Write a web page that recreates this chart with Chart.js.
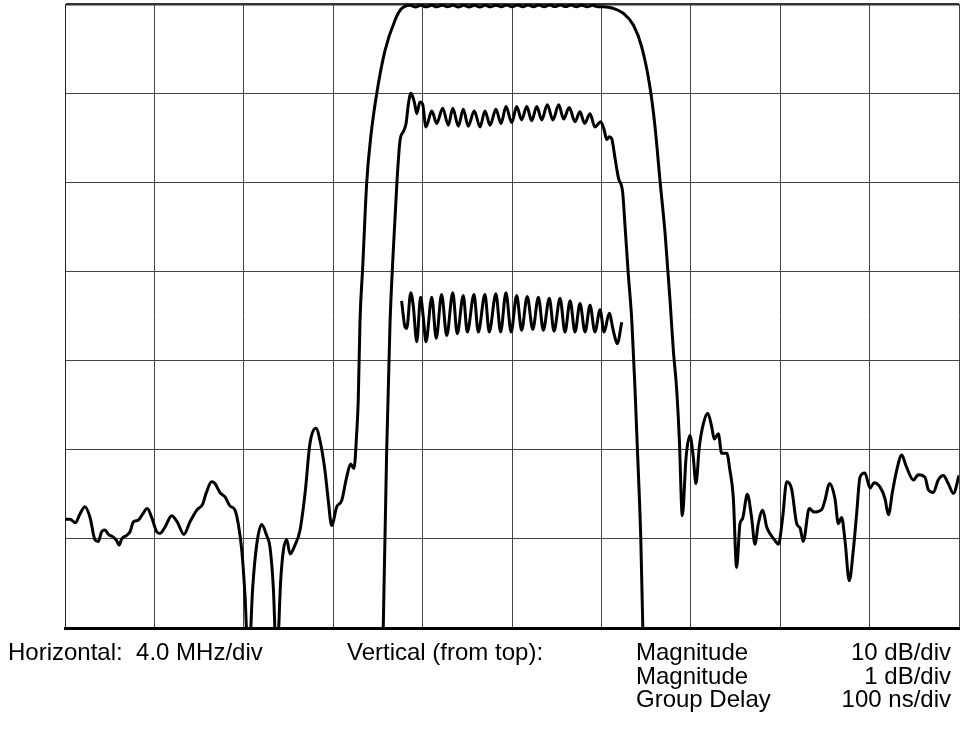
<!DOCTYPE html>
<html lang="en">
<head>
    <meta charset="UTF-8">
    <title>Filter response</title>
    <script src="https://cdn.jsdelivr.net/npm/chart.js"></script>
    <style>
        html, body { margin: 0; padding: 0; background: #fff; }
        .wrap { position: relative; width: 960px; height: 732px; overflow: hidden; }
        canvas { position: absolute; left: 0; top: 0; }
        .lbl {
            position: absolute;
            font-family: 'Liberation Sans', Arial, sans-serif;
            font-size: 24px;
            line-height: 23.5px;
            color: #000;
            white-space: pre;
        }
        .r { text-align: right; }
    </style>
</head>
<body>
<div class="wrap">
    <canvas id="chart" width="960" height="732"></canvas>
    <div class="lbl" style="left:8px; top:640px;">Horizontal:  4.0 MHz/div</div>
    <div class="lbl" style="left:347px; top:640px;">Vertical (from top):</div>
    <div class="lbl" style="left:636px; top:640px;">Magnitude<br>Magnitude<br>Group Delay</div>
    <div class="lbl r" style="right:9px; top:640px;">10 dB/div<br>1 dB/div<br>100 ns/div</div>
</div>
<script>
// frequency offset in MHz (4 MHz/div), magnitude in dB (10 dB/div)
const wideFreq = [
    -20.00, -19.78, -19.53, -19.33, -19.11, -18.88, -18.66, -18.51, -18.36, -18.21,
    -18.06, -17.84, -17.69, -17.58, -17.46, -17.24, -17.09, -16.94, -16.72, -16.57,
    -16.32, -16.12, -15.90, -15.75, -15.53, -15.23, -14.98, -14.68, -14.41, -14.11,
    -13.84, -13.69, -13.44, -13.29, -13.07, -12.84, -12.62, -12.39, -12.25, -12.09,
    -11.95, -11.79, -11.60, -11.42, -11.20, -10.98, -10.83, -10.68, -10.53, -10.35,
    -10.23, -10.08, -9.93, -9.71, -9.49, -9.26, -9.04, -8.77, -8.59, -8.37,
    -8.22, -8.07, -7.84, -7.62, -7.40, -7.22, -7.07, -6.95, -6.88, -6.80,
    -6.68, -6.50, -6.31, -6.05, -5.68, -5.23, -4.97, -4.56,
    -4.32, -4.08, -3.84, -3.60, -3.36, -3.12, -2.88, -2.64, -2.40, -2.16,
    -1.92, -1.68, -1.44, -1.20, -0.96, -0.72, -0.48, -0.24, 0.00, 0.24,
    0.48, 0.72, 0.96, 1.20, 1.44, 1.68, 1.92, 2.16, 2.40, 2.64,
    2.88, 3.12, 3.36, 3.60, 3.84,
    4.09, 4.53, 4.98, 5.43, 5.80, 6.17, 6.40, 6.62, 6.85, 7.07,
    7.22, 7.37, 7.49, 7.62, 7.79, 7.96, 8.11, 8.23, 8.38, 8.56,
    8.76, 8.94, 9.05, 9.23, 9.38, 9.61, 9.75, 9.90, 10.05, 10.20,
    10.32, 10.53, 10.72, 10.87, 11.02, 11.22, 11.40, 11.54, 11.77, 11.92,
    12.11, 12.29, 12.51, 12.74, 12.89, 13.03, 13.30, 13.51, 13.86, 14.00,
    14.20, 14.45, 14.60, 14.75, 14.90, 15.09, 15.27, 15.42, 15.57, 15.79,
    16.02, 16.20, 16.47, 16.69, 16.84, 17.03, 17.24, 17.44, 17.63, 17.96,
    18.18, 18.48, 18.63, 18.85, 19.07, 19.30, 19.52, 19.75, 20.00
];
const wideMag = [
    -57.8, -57.8, -58.2, -57.2, -56.4, -57.6, -60.1, -60.3, -59.2, -59.0,
    -59.5, -59.8, -60.2, -60.7, -60.0, -59.6, -59.2, -58.1, -57.9, -57.4,
    -56.6, -57.6, -59.2, -59.4, -58.7, -57.4, -58.1, -59.5, -58.1, -56.8,
    -56.1, -54.9, -53.6, -53.8, -54.8, -55.3, -56.3, -56.8, -58.3, -61.3,
    -66.2, -74.0, -65.4, -60.6, -58.4, -59.6, -60.9, -65.4, -74.0, -64.7,
    -61.3, -60.1, -61.7, -60.7, -59.1, -54.9, -49.3, -47.6, -49.0, -52.3,
    -55.7, -58.5, -56.4, -55.7, -53.1, -51.6, -52.1, -48.2, -44.5, -35.5,
    -29.5, -20.0, -14.7, -10.0, -5.2, -1.8, -0.6, -0.15,
    -0.33, -0.14, -0.32, -0.14, -0.32, -0.13, -0.32, -0.13, -0.33, -0.14,
    -0.33, -0.14, -0.33, -0.14, -0.32, -0.13, -0.31, -0.12, -0.30, -0.12,
    -0.30, -0.12, -0.30, -0.12, -0.30, -0.11, -0.29, -0.11, -0.29, -0.12,
    -0.30, -0.13, -0.31, -0.15, -0.30,
    -0.30, -0.48, -1.04, -2.36, -4.79, -9.28, -13.78, -19.76, -25.74, -33.23,
    -38.9, -43.3, -49.0, -57.4, -50.8, -48.4, -50.8, -53.8, -49.7, -47.1,
    -45.9, -47.5, -48.8, -48.2, -50.4, -50.4, -52.3, -55.3, -63.2, -58.3,
    -57.7, -55.0, -57.6, -60.6, -58.3, -56.8, -58.7, -59.4, -60.2, -60.6,
    -57.6, -53.6, -54.4, -58.3, -58.8, -60.3, -56.6, -57.0, -56.7, -55.7,
    -53.8, -55.5, -58.3, -57.6, -60.2, -64.7, -61.3, -57.2, -53.1, -52.6,
    -54.3, -53.7, -54.2, -55.5, -57.3, -54.6, -52.0, -50.6, -51.8, -53.4,
    -52.8, -53.1, -54.5, -54.8, -53.4, -52.9, -53.8, -54.9, -52.9
];

// passband detail, 1 dB/div
const fineFreq = [
    -5.79, -5.61, -5.46, -5.31, -5.16, -5.01, -4.86, -4.74, -4.64, -4.52,
    -4.37, -4.26, -4.12, -4.00, -3.85, -3.59, -3.37, -3.10, -2.85, -2.65,
    -2.40, -2.18, -1.96, -1.69, -1.43, -1.21, -0.98, -0.72, -0.49, -0.27,
    -0.01, 0.21, 0.43, 0.66, 0.88, 1.11, 1.33, 1.58, 1.83, 2.09,
    2.31, 2.56, 2.82, 3.04, 3.25, 3.49, 3.71, 3.97, 4.12, 4.24,
    4.35, 4.46, 4.61, 4.76, 4.95, 5.06, 5.20, 5.36, 5.50, 5.65,
    5.76, 5.88
];
const fineMag = [
    -7.4, -5.04, -3.60, -2.76, -2.05, -1.53, -1.43, -1.34, -1.13, -1.00,
    -1.10, -1.23, -1.10, -1.12, -1.38, -1.20, -1.34, -1.17, -1.36, -1.17,
    -1.37, -1.18, -1.37, -1.20, -1.38, -1.20, -1.36, -1.18, -1.34, -1.15,
    -1.33, -1.15, -1.30, -1.15, -1.31, -1.15, -1.30, -1.13, -1.30, -1.13,
    -1.29, -1.16, -1.32, -1.21, -1.34, -1.23, -1.38, -1.32, -1.41, -1.52,
    -1.49, -1.51, -1.73, -1.95, -2.11, -2.50, -3.02, -3.55, -4.30, -5.23,
    -5.98, -7.3
];

// group delay, 100 ns/div
const delayFreq = [
    -4.94, -4.79, -4.71, -4.53, -4.42, -4.26, -4.09, -3.97, -3.85, -3.59,
    -3.39, -3.15, -2.92, -2.65, -2.45, -2.18, -2.00, -1.70, -1.51, -1.21,
    -1.02, -0.72, -0.51, -0.27, -0.04, 0.21, 0.43, 0.68, 0.93, 1.18,
    1.40, 1.67, 1.88, 2.15, 2.37, 2.60, 2.82, 3.04, 3.27, 3.49,
    3.71, 3.94, 4.12, 4.35, 4.53, 4.71, 4.91
];
const delayNs = [
    367, 338, 336, 376, 362, 321, 371, 349, 321, 371,
    325, 374, 328, 376, 330, 373, 332, 374, 332, 374,
    332, 375, 332, 376, 332, 373, 334, 372, 335, 371,
    334, 370, 333, 370, 332, 367, 332, 364, 332, 362,
    332, 357, 332, 353, 334, 319, 343
];

function pairs(xs, ys) {
    return xs.map((x, i) => ({ x: x, y: ys[i] }));
}

function trace(data, axis) {
    return {
        data: data,
        yAxisID: axis,
        borderColor: '#000',
        borderWidth: 3,
        pointRadius: 0,
        fill: false,
        cubicInterpolationMode: 'monotone'
    };
}

const ctx = document.getElementById('chart').getContext('2d');
new Chart(ctx, {
    type: 'line',
    data: {
        datasets: [
            trace(pairs(wideFreq, wideMag), 'yMag'),
            trace(pairs(fineFreq, fineMag), 'yFine'),
            trace(pairs(delayFreq, delayNs), 'yDelay')
        ]
    },
    options: {
        responsive: false,
        animation: false,
        devicePixelRatio: 1,
        layout: { padding: { left: 65, top: 4, right: 1, bottom: 104 } },
        plugins: { legend: { display: false }, tooltip: { enabled: false } },
        scales: {
            x: {
                type: 'linear',
                min: -20,
                max: 20,
                ticks: { display: false, stepSize: 4 },
                grid: { color: '#444', lineWidth: 1, drawTicks: false },
                border: { color: '#000', width: 3 }
            },
            yMag: {
                type: 'linear',
                position: 'left',
                min: -70,
                max: 0,
                ticks: { display: false, stepSize: 10 },
                grid: {
                    drawTicks: false,
                    color: c => c.index === 7 ? '#333' : '#444',
                    lineWidth: c => c.index === 7 ? 2.5 : 1
                },
                border: { color: '#222', width: 1 }
            },
            yFine: { type: 'linear', display: false, min: -7, max: 0 },
            yDelay: { type: 'linear', display: false, min: 0, max: 700 }
        }
    }
});
</script>
</body>
</html>
